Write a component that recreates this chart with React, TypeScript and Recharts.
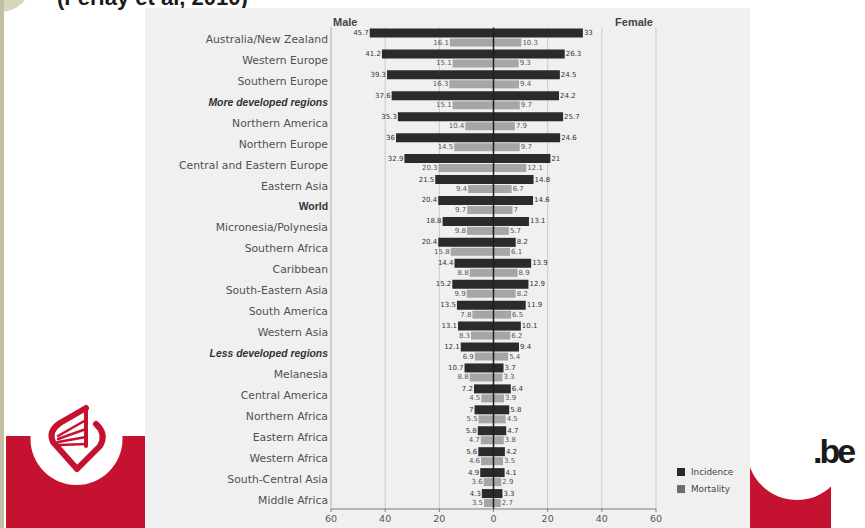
import React from "react";
import {
  Bar,
  BarChart,
  CartesianGrid,
  LabelList,
  Legend,
  ReferenceLine,
  XAxis,
  YAxis,
} from "recharts";

const regions = [
  "Australia/New Zealand",
  "Western Europe",
  "Southern Europe",
  "More developed regions",
  "Northern America",
  "Northern Europe",
  "Central and Eastern Europe",
  "Eastern Asia",
  "World",
  "Micronesia/Polynesia",
  "Southern Africa",
  "Caribbean",
  "South-Eastern Asia",
  "South America",
  "Western Asia",
  "Less developed regions",
  "Melanesia",
  "Central America",
  "Northern Africa",
  "Eastern Africa",
  "Western Africa",
  "South-Central Asia",
  "Middle Africa",
];

const maleIncidence = [
  45.7, 41.2, 39.3, 37.6, 35.3, 36, 32.9, 21.5, 20.4, 18.8, 20.4, 14.4, 15.2,
  13.5, 13.1, 12.1, 10.7, 7.2, 7, 5.8, 5.6, 4.9, 4.3,
];
const maleMortality = [
  16.1, 15.1, 16.3, 15.1, 10.4, 14.5, 20.3, 9.4, 9.7, 9.8, 15.8, 8.8, 9.9, 7.8,
  8.3, 6.9, 8.8, 4.5, 5.5, 4.7, 4.6, 3.6, 3.5,
];
const femaleIncidence = [
  33, 26.3, 24.5, 24.2, 25.7, 24.6, 21, 14.8, 14.6, 13.1, 8.2, 13.9, 12.9, 11.9,
  10.1, 9.4, 3.7, 6.4, 5.8, 4.7, 4.2, 4.1, 3.3,
];
const femaleMortality = [
  10.3, 9.3, 9.4, 9.7, 7.9, 9.7, 12.1, 6.7, 7, 5.7, 6.1, 8.9, 8.2, 6.5, 6.2, 5.4,
  3.3, 3.9, 4.5, 3.8, 3.5, 2.9, 2.7,
];

const axisTicks = [-60, -40, -20, 0, 20, 40, 60];
const boldItalicRegions = ["More developed regions", "Less developed regions"];
const boldRegions = ["World"];
const legendItems = [
  { label: "Incidence", color: "#2a2a2a" },
  { label: "Mortality", color: "#6e6e6e" },
];

const INC = "#2b2b2b";
const MORT = "#a6a6a6";

// male values go left of zero
const data = regions.map((name, i) => ({
  name,
  maleInc: -maleIncidence[i],
  femaleInc: femaleIncidence[i],
  maleMort: -maleMortality[i],
  femaleMort: femaleMortality[i],
}));

const CategoryTick = ({ x, y, payload }: any) => {
  const name = payload.value;
  const italic = boldItalicRegions.includes(name);
  const bold = italic || boldRegions.includes(name);
  return (
    <text
      x={x}
      y={y + 1.5}
      textAnchor="end"
      dominantBaseline="central"
      fontSize={bold ? 10.4 : 10.8}
      fontFamily={bold ? "'Liberation Sans', Arial, sans-serif" : "'DejaVu Sans', sans-serif"}
      fontWeight={bold ? "bold" : "normal"}
      fontStyle={italic ? "italic" : "normal"}
      fill={bold ? "#333" : "#505050"}
    >
      {name}
    </text>
  );
};

const valueLabel = (side: "left" | "right", fill: string) => (props: any) => {
  const { x, y, width, height, value } = props;
  if (value == null) return null;
  const left = Math.min(x, x + width);
  const right = Math.max(x, x + width);
  return (
    <text
      x={side === "left" ? left - 1 : right + 1}
      y={y + height / 2}
      textAnchor={side === "left" ? "end" : "start"}
      dominantBaseline="central"
      fontSize={7}
      fontFamily="'DejaVu Sans', sans-serif"
      fill={fill}
    >
      {Math.abs(value)}
    </text>
  );
};

const LegendBox = () => (
  <div style={{ fontFamily: "'DejaVu Sans', sans-serif", fontSize: 8.8, color: "#444" }}>
    {legendItems.map((item) => (
      <div key={item.label} style={{ display: "flex", alignItems: "center", height: 17 }}>
        <span
          style={{
            width: 8,
            height: 8,
            background: item.color,
            marginRight: 6,
            display: "inline-block",
          }}
        />
        {item.label}
      </div>
    ))}
  </div>
);

const App = () => {
  return (
    <div
      style={{
        position: "absolute",
        left: 0,
        top: 0,
        width: 865,
        height: 528,
        background: "#fff",
        overflow: "hidden",
      }}
    >
      {/* slide background bits */}
      <svg width={865} height={528} style={{ position: "absolute", left: 0, top: 0 }}>
        <circle cx={0} cy={-20} r={32} fill="#d9d5bd" />
        <rect x={0} y={0} width={4} height={528} fill="#c2bea2" />
        <text
          x={57}
          y={5}
          fontSize={22}
          fontWeight="bold"
          fontFamily="'Liberation Sans', Arial, sans-serif"
          fill="#1a1a1a"
        >
          (Ferlay et al, 2010)
        </text>
        <rect x={6} y={436} width={145} height={92} fill="#c41230" />
        <rect x={745} y={436} width={86} height={92} fill="#c41230" />
        <circle cx={76.5} cy={439} r={46} fill="#fff" />
        <circle cx={797} cy={450} r={50} fill="#fff" />
        <g stroke="#c41230" fill="none" strokeLinecap="round" strokeLinejoin="round">
          <path d="M86,408 L60,423 Q48,431 53,442 L77,469 L100,446 Q107,434 96,424" strokeWidth={6} />
          <path d="M86,408 L86,446" strokeWidth={4} />
          <path d="M58,436 L86,420" strokeWidth={2.4} />
          <path d="M58,439 L86,429" strokeWidth={2.4} />
          <path d="M58,442 L86,437" strokeWidth={2.4} />
          <path d="M59,445 L86,444" strokeWidth={2.4} />
        </g>
        <text
          x={813}
          y={463}
          fontSize={34}
          fontWeight="bold"
          letterSpacing={-3}
          fontFamily="'Liberation Sans', Arial, sans-serif"
          fill="#1a1a1a"
        >
          .be
        </text>
      </svg>

      <div
        style={{
          position: "absolute",
          left: 145,
          top: 8,
          width: 605,
          height: 520,
          background: "#f0f0f0",
        }}
      >
        <BarChart
          width={605}
          height={520}
          data={data}
          layout="vertical"
          stackOffset="sign"
          barGap={1}
          margin={{ top: 19.5, right: 94, bottom: 0, left: 0 }}
        >
          <CartesianGrid horizontal={false} stroke="#c9c9c9" />
          <XAxis
            type="number"
            domain={[-60, 60]}
            ticks={axisTicks}
            tickFormatter={(v) => String(Math.abs(v))}
            height={19}
            tickSize={3}
            tickMargin={3}
            axisLine={{ stroke: "#7a7a7a" }}
            tickLine={{ stroke: "#7a7a7a" }}
            tick={{ fontSize: 9.5, fill: "#555", fontFamily: "'DejaVu Sans', sans-serif" }}
          />
          <YAxis
            type="category"
            dataKey="name"
            width={186}
            tickSize={0}
            tickMargin={3}
            tickLine={false}
            axisLine={{ stroke: "#c2c2c2" }}
            tick={<CategoryTick />}
            interval={0}
          />
          <Legend
            layout="vertical"
            align="center"
            verticalAlign="middle"
            content={<LegendBox />}
            wrapperStyle={{ left: 532, top: 455, width: 70 }}
          />
          <Bar dataKey="maleInc" name="Incidence" stackId="inc" fill={INC} barSize={9} isAnimationActive={false}>
            <LabelList dataKey="maleInc" content={valueLabel("left", "#333")} />
          </Bar>
          <Bar dataKey="femaleInc" name="Incidence" stackId="inc" fill={INC} barSize={9} isAnimationActive={false}>
            <LabelList dataKey="femaleInc" content={valueLabel("right", "#333")} />
          </Bar>
          <Bar dataKey="maleMort" name="Mortality" stackId="mort" fill={MORT} barSize={8} isAnimationActive={false}>
            <LabelList dataKey="maleMort" content={valueLabel("left", "#555")} />
          </Bar>
          <Bar dataKey="femaleMort" name="Mortality" stackId="mort" fill={MORT} barSize={8} isAnimationActive={false}>
            <LabelList dataKey="femaleMort" content={valueLabel("right", "#555")} />
          </Bar>
          <ReferenceLine x={0} stroke="#1e1e1e" strokeWidth={1.5} />
        </BarChart>
        <svg
          width={605}
          height={26}
          style={{ position: "absolute", left: 0, top: 0, pointerEvents: "none" }}
        >
          <g fontSize={11} fontWeight="bold" fontFamily="'Liberation Sans', Arial, sans-serif" fill="#444">
            <text x={188} y={17.5}>Male</text>
            <text x={508} y={17.5} textAnchor="end">Female</text>
          </g>
        </svg>
      </div>
    </div>
  );
};

export default App;
